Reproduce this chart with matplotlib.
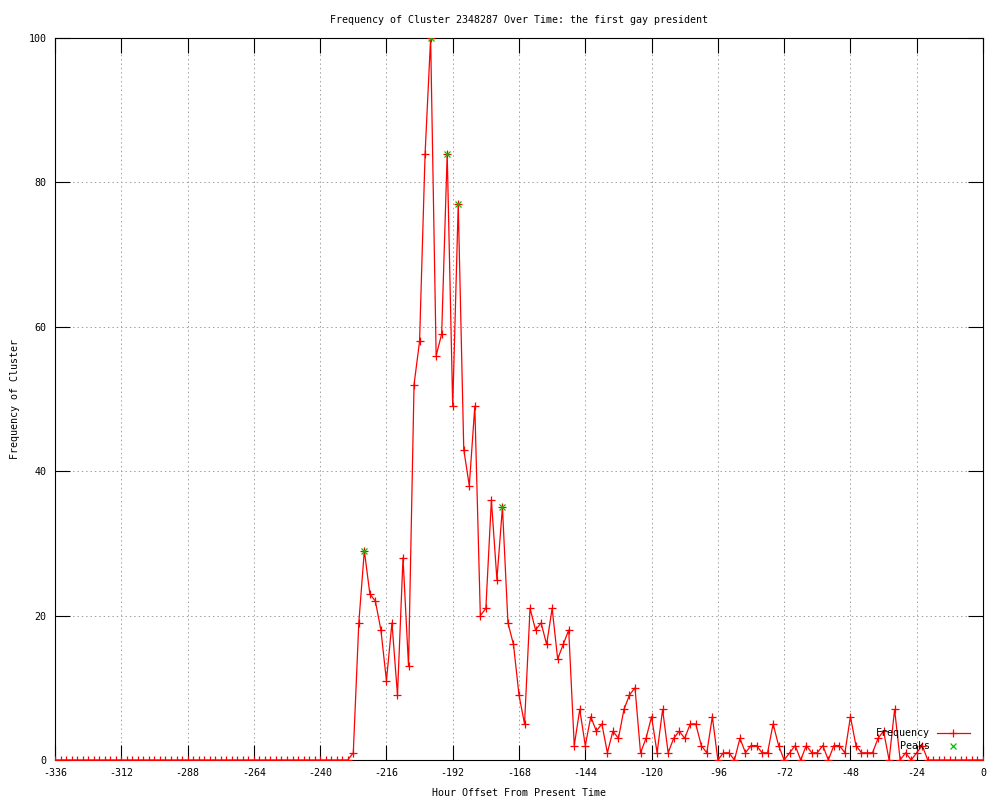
import numpy as np
import matplotlib
matplotlib.use("Agg")
import matplotlib.pyplot as plt

# hour offsets, one reading every 2 hours
hours = np.arange(-336, 1, 2)

freq = [
    # -336 .. -230
    0, 0, 0, 0, 0, 0, 0, 0, 0, 0, 0, 0, 0, 0, 0, 0, 0, 0,
    0, 0, 0, 0, 0, 0, 0, 0, 0, 0, 0, 0, 0, 0, 0, 0, 0, 0,
    0, 0, 0, 0, 0, 0, 0, 0, 0, 0, 0, 0, 0, 0, 0, 0, 0, 0,
    # -228 .. -150
    1, 19, 29, 23, 22, 18, 11, 19, 9, 28, 13, 52, 58, 84, 100, 56, 59, 84, 49, 77,
    43, 38, 49, 20, 21, 36, 25, 35, 19, 16, 9, 5, 21, 18, 19, 16, 21, 14, 16, 18,
    # -148 .. -70
    2, 7, 2, 6, 4, 5, 1, 4, 3, 7, 9, 10, 1, 3, 6, 1, 7, 1, 3, 4,
    3, 5, 5, 2, 1, 6, 0, 1, 1, 0, 3, 1, 2, 2, 1, 1, 5, 2, 0, 1,
    # -68 .. -20
    2, 0, 2, 1, 1, 2, 0, 2, 2, 1, 6, 2, 1, 1, 1, 3, 4, 0, 7, 0,
    1, 0, 1, 2, 0,
    # -18 .. 0
    0, 0, 0, 0, 0, 0, 0, 0, 0, 0,
]

peak_hours = [-224, -200, -194, -190, -174]
peak_vals = [29, 100, 84, 77, 35]

title = "Frequency of Cluster 2348287 Over Time: the first gay president"
xticks = list(range(-336, 1, 24))
yticks = [0, 20, 40, 60, 80, 100]

mono = "DejaVu Sans Mono"
fs = 7.2

fig = plt.figure(figsize=(10, 8), dpi=100)
ax = fig.add_axes([0.055, 0.05, 0.928, 0.9025])

ax.plot(hours, freq, color="#ff0000", lw=0.9, marker="+", ms=5.5, mew=0.9, zorder=3)
ax.plot(peak_hours, peak_vals, ls="none", color="#00c000", marker="x", ms=5, mew=0.9, zorder=4)

ax.set_xlim(-336, 0)
ax.set_ylim(0, 100)
ax.set_xticks(xticks)
ax.set_yticks(yticks)
ax.set_xticklabels([str(t) for t in xticks], family=mono, fontsize=fs)
ax.set_yticklabels([str(t) for t in yticks], family=mono, fontsize=fs)
ax.tick_params(direction="in", length=11, width=0.8, top=True, right=True, pad=6)
ax.grid(True, color="#a0a0a0", lw=0.7, ls=(0, (1.5, 3)))
ax.set_axisbelow(True)
for s in ax.spines.values():
    s.set_linewidth(0.8)

ax.set_title(title, family=mono, fontsize=fs, pad=11)
ax.set_xlabel("Hour Offset From Present Time", family=mono, fontsize=fs, labelpad=7)
ax.set_ylabel("Frequency of Cluster", family=mono, fontsize=fs, labelpad=6)

# gnuplot style key, bottom right inside the plot
ax.text(0.943, 0.0374, "Frequency", transform=ax.transAxes, ha="right", va="center",
        family=mono, fontsize=fs, zorder=5)
ax.plot([0.9504, 0.986], [0.0374, 0.0374], transform=ax.transAxes, color="#ff0000", lw=0.9, zorder=5)
ax.plot([0.9677], [0.0374], transform=ax.transAxes, color="#ff0000", marker="+", ms=5.5, mew=0.9, zorder=5)
ax.text(0.943, 0.0194, "Peaks", transform=ax.transAxes, ha="right", va="center",
        family=mono, fontsize=fs, zorder=5)
ax.plot([0.9677], [0.0194], transform=ax.transAxes, color="#00c000", marker="x", ms=5, mew=0.9, zorder=5)

fig.savefig("out.png", dpi=100)
